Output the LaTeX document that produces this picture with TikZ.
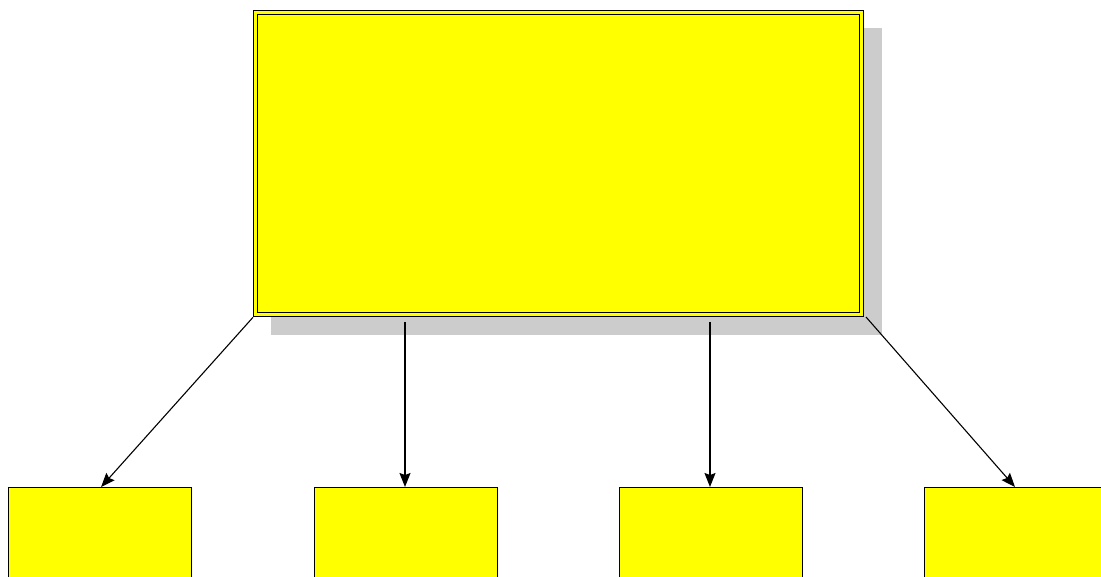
\documentclass[tikz,border=0pt]{standalone}
\usetikzlibrary{arrows.meta}
\definecolor{boxyellow}{RGB}{255,255,0}
\definecolor{shadowgray}{RGB}{204,204,204}
\tikzset{
  x=1pt, y=1pt,
  bigbox/.style={draw=black, fill=boxyellow, line width=1.3pt, minimum width=610pt, minimum height=306pt, inner sep=0pt, anchor=north west},
  smallbox/.style={draw=black, fill=boxyellow, line width=1.2pt, minimum width=183pt, minimum height=120pt, inner sep=0pt, anchor=north west},
  link/.style={draw=black, line width=1.1pt, -{Stealth[length=14pt,width=11pt,inset=2pt]}},
}
\begin{document}
\begin{tikzpicture}
\useasboundingbox (0,0) rectangle (1101,-577);
\clip (0,0) rectangle (1101,-577);
\fill[shadowgray] (271,-28) rectangle (882,-335);
\node[bigbox] (top) at (253,-10) {};
\draw[line width=1.3pt] ([shift={(4.5pt,-4.5pt)}]top.north west) rectangle ([shift={(-4.5pt,4.5pt)}]top.south east);
\node[smallbox] (b1) at (8,-487) {};
\node[smallbox] (b2) at (314,-487) {};
\node[smallbox] (b3) at (619,-487) {};
\node[smallbox] (b4) at (924,-487) {};
\coordinate (s2) at (405,-322);
\coordinate (s3) at (710,-322);
\coordinate (s4) at (866,-317);
\draw[link] (top.south west) -- ([xshift=1pt]b1.north);
\draw[link] (s2) -- (s2 |- b2.north);
\draw[link] (s3) -- (s3 |- b3.north);
\draw[link] (s4) -- (1015,-487);
\end{tikzpicture}
\end{document}
